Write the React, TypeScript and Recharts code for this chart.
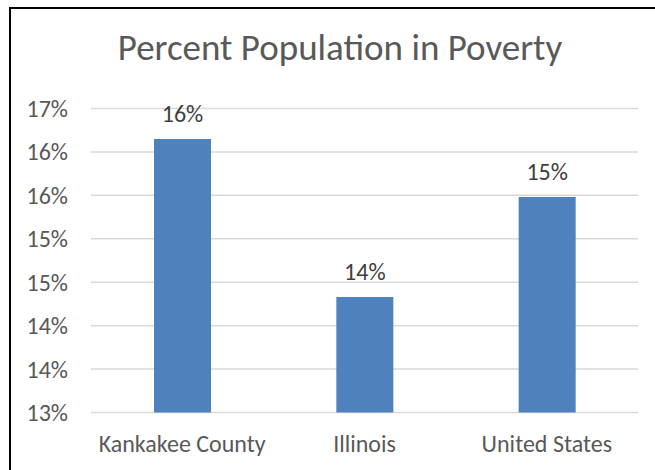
import React from 'react';
import { BarChart, Bar, XAxis, YAxis, CartesianGrid, LabelList } from 'recharts';

const regions = ['Kankakee County', 'Illinois', 'United States'];
const povertyPct = [16.15, 14.33, 15.48];
const yTicks = [13, 13.5, 14, 14.5, 15, 15.5, 16, 16.5];

const data = regions.map((name, i) => ({ name, value: povertyPct[i] }));

const font = 'Calibri, Carlito, Lato, sans-serif';
const textColor = '#595959';
const pct = (v: number) => `${Math.round(v)}%`;

const App: React.FC = () => {
  return (
    <div style={{ position: 'absolute', left: 0, top: 0, width: 655, height: 470, background: '#fff', overflow: 'hidden' }}>
      <div
        style={{
          position: 'absolute',
          left: 9,
          top: 7,
          width: 646,
          height: 463,
          boxSizing: 'border-box',
          borderLeft: '2px solid #000',
          borderTop: '2px solid #000',
        }}
      />
      <div
        style={{
          position: 'absolute',
          left: 0,
          width: 680,
          top: 26,
          textAlign: 'center',
          fontFamily: font,
          fontSize: 37,
          color: textColor,
          lineHeight: '44px',
        }}
      >
        Percent Population in Poverty
      </div>
      <div style={{ position: 'absolute', left: 0, top: 0 }}>
        <BarChart width={655} height={470} data={data} margin={{ top: 108.5, right: 17, bottom: 7.5, left: 0 }}>
          <CartesianGrid vertical={false} stroke="#D9D9D9" strokeWidth={1.5} />
          <XAxis
            dataKey="name"
            height={50}
            axisLine={false}
            tickLine={false}
            tickSize={0}
            tickMargin={22.5}
            tick={{ fill: textColor, fontSize: 24, fontFamily: font }}
          />
          <YAxis
            width={91}
            domain={[13, 16.5]}
            ticks={yTicks}
            interval={0}
            axisLine={false}
            tickLine={false}
            tickSize={0}
            tickMargin={23}
            tickFormatter={pct}
            tick={{ fill: textColor, fontSize: 24, fontFamily: font }}
          />
          <Bar dataKey="value" fill="#4F81BD" barSize={57} isAnimationActive={false}>
            <LabelList
              dataKey="value"
              position="top"
              offset={17}
              formatter={(v: any) => pct(Number(v))}
              style={{ fill: '#404040', fontSize: 24, fontFamily: font }}
            />
          </Bar>
        </BarChart>
      </div>
    </div>
  );
};

export default App;
